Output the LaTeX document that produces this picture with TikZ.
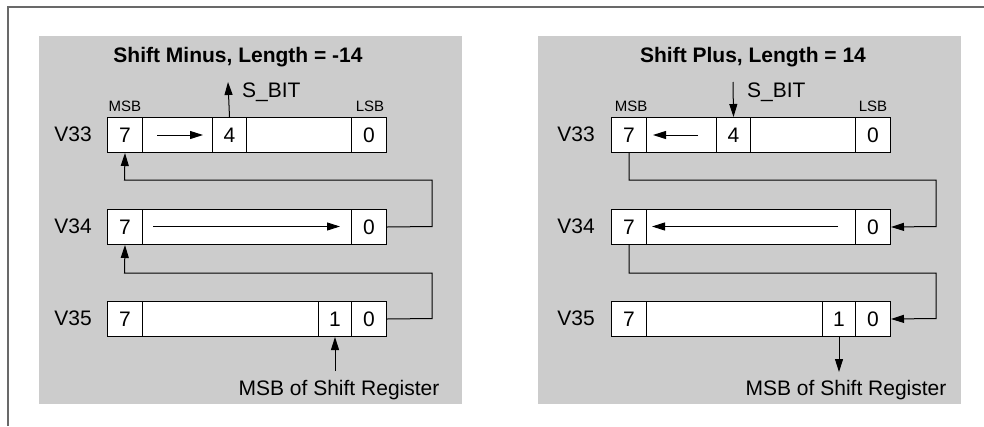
\documentclass[tikz,border=0pt]{standalone}
\usepackage{fontspec}
\setmainfont{Liberation Sans}
\usetikzlibrary{arrows.meta}
\definecolor{panelgray}{RGB}{204,204,204}
\definecolor{framegray}{RGB}{105,105,105}
\begin{document}
\begin{tikzpicture}[x=1pt,y=-1pt,
  cell/.style={draw=black, fill=white, line width=1pt, inner sep=0pt, minimum height=35pt, anchor=north west, font=\fontsize{21}{25}\selectfont},
  lbl/.style={font=\fontsize{21}{25}\selectfont, inner sep=0pt, anchor=base},
  small/.style={font=\fontsize{15}{18}\selectfont, inner sep=0pt, anchor=base},
  ttl/.style={font=\bfseries\fontsize{21}{25}\selectfont, inner sep=0pt, anchor=base},
  arr/.style={line width=1pt, -{Triangle[length=13pt,width=8pt]}},
  frame/.style={framegray, line width=1.5pt}]
\useasboundingbox (0,0) rectangle (984,426);
\draw[frame] (8,426) -- (8,7) -- (984,7);

% ---------------- left panel ----------------
\fill[panelgray] (39,36) rectangle (462,404);
\node[ttl] (Ltitle) at (238,62) {Shift Minus, Length = -14};
\node[small] (Lmsb) at (125,111) {MSB};
\node[small] (Llsb) at (370,111) {LSB};
\node[lbl] (Lv33) at (73,141) {V33};
\node[lbl] (Lv34) at (73,233) {V34};
\node[lbl] (Lv35) at (73,325) {V35};

\node[cell, minimum width=35pt]  (L33a) at (107,117) {7};
\node[cell, minimum width=70pt]  (L33b) at (142,117) {};
\node[cell, minimum width=34pt]  (L33c) at (212,117) {4};
\node[cell, minimum width=105pt] (L33d) at (246,117) {};
\node[cell, minimum width=35pt]  (L33e) at (351,117) {0};

\node[cell, minimum width=35pt]  (L34a) at (107,209) {7};
\node[cell, minimum width=209pt] (L34b) at (142,209) {};
\node[cell, minimum width=35pt]  (L34c) at (351,209) {0};

\node[cell, minimum width=35pt]  (L35a) at (107,301) {7};
\node[cell, minimum width=176pt] (L35b) at (142,301) {};
\node[cell, minimum width=33pt]  (L35c) at (318,301) {1};
\node[cell, minimum width=35pt]  (L35d) at (351,301) {0};

\coordinate (LsTip) at (228,82);
\draw[arr] (L33c.north) -- (LsTip);
\node[lbl, anchor=base west] (Lsbit) at (242,97) {S\_BIT};

\coordinate (La1) at (157,135);
\coordinate (La2) at (203,135);
\draw[arr] (La1) -- (La2);
\coordinate (Lb1) at (153,226.5);
\coordinate (Lb2) at (340,226.5);
\draw[arr] (Lb1) -- (Lb2);

\draw[arr] (L34c.east) -- (432,226.5) |- (124.5,180) -- (L33a.south);
\draw[arr] (L35d.east) -- (432,318.5) |- (124.5,273) -- (L34a.south);

\node[lbl] (Lmsr) at (339,395) {MSB of Shift Register};
\draw[arr] (L35c.south) ++(0,34) -- (L35c.south);

% ---------------- right panel ----------------
\fill[panelgray] (538,36) rectangle (961,404);
\node[ttl] (Rtitle) at (753,62) {Shift Plus, Length = 14};
\node[small] (Rmsb) at (631,111) {MSB};
\node[small] (Rlsb) at (873,111) {LSB};
\node[lbl] (Rv33) at (576,141) {V33};
\node[lbl] (Rv34) at (576,233) {V34};
\node[lbl] (Rv35) at (576,325) {V35};

\node[cell, minimum width=35pt]  (R33a) at (611,117) {7};
\node[cell, minimum width=70pt]  (R33b) at (646,117) {};
\node[cell, minimum width=34pt]  (R33c) at (716,117) {4};
\node[cell, minimum width=105pt] (R33d) at (750,117) {};
\node[cell, minimum width=35pt]  (R33e) at (855,117) {0};

\node[cell, minimum width=35pt]  (R34a) at (611,209) {7};
\node[cell, minimum width=209pt] (R34b) at (646,209) {};
\node[cell, minimum width=35pt]  (R34c) at (855,209) {0};

\node[cell, minimum width=35pt]  (R35a) at (611,301) {7};
\node[cell, minimum width=176pt] (R35b) at (646,301) {};
\node[cell, minimum width=33pt]  (R35c) at (822,301) {1};
\node[cell, minimum width=35pt]  (R35d) at (855,301) {0};

\coordinate (RsTail) at (733,82);
\draw[arr] (RsTail) -- (R33c.north);
\node[lbl, anchor=base west] (Rsbit) at (747,97) {S\_BIT};

\coordinate (Ra1) at (698,135);
\coordinate (Ra2) at (653,135);
\draw[arr] (Ra1) -- (Ra2);
\coordinate (Rb1) at (838,226.5);
\coordinate (Rb2) at (652,226.5);
\draw[arr] (Rb1) -- (Rb2);

\draw[arr] (R33a.south) |- (936,180) -- (936,226.5) -- (R34c.east);
\draw[arr] (R34a.south) |- (936,273) -- (936,318.5) -- (R35d.east);

\node[lbl] (Rmsr) at (846,395) {MSB of Shift Register};
\draw[arr] (R35c.south) -- ++(0,35);
\end{tikzpicture}
\end{document}
